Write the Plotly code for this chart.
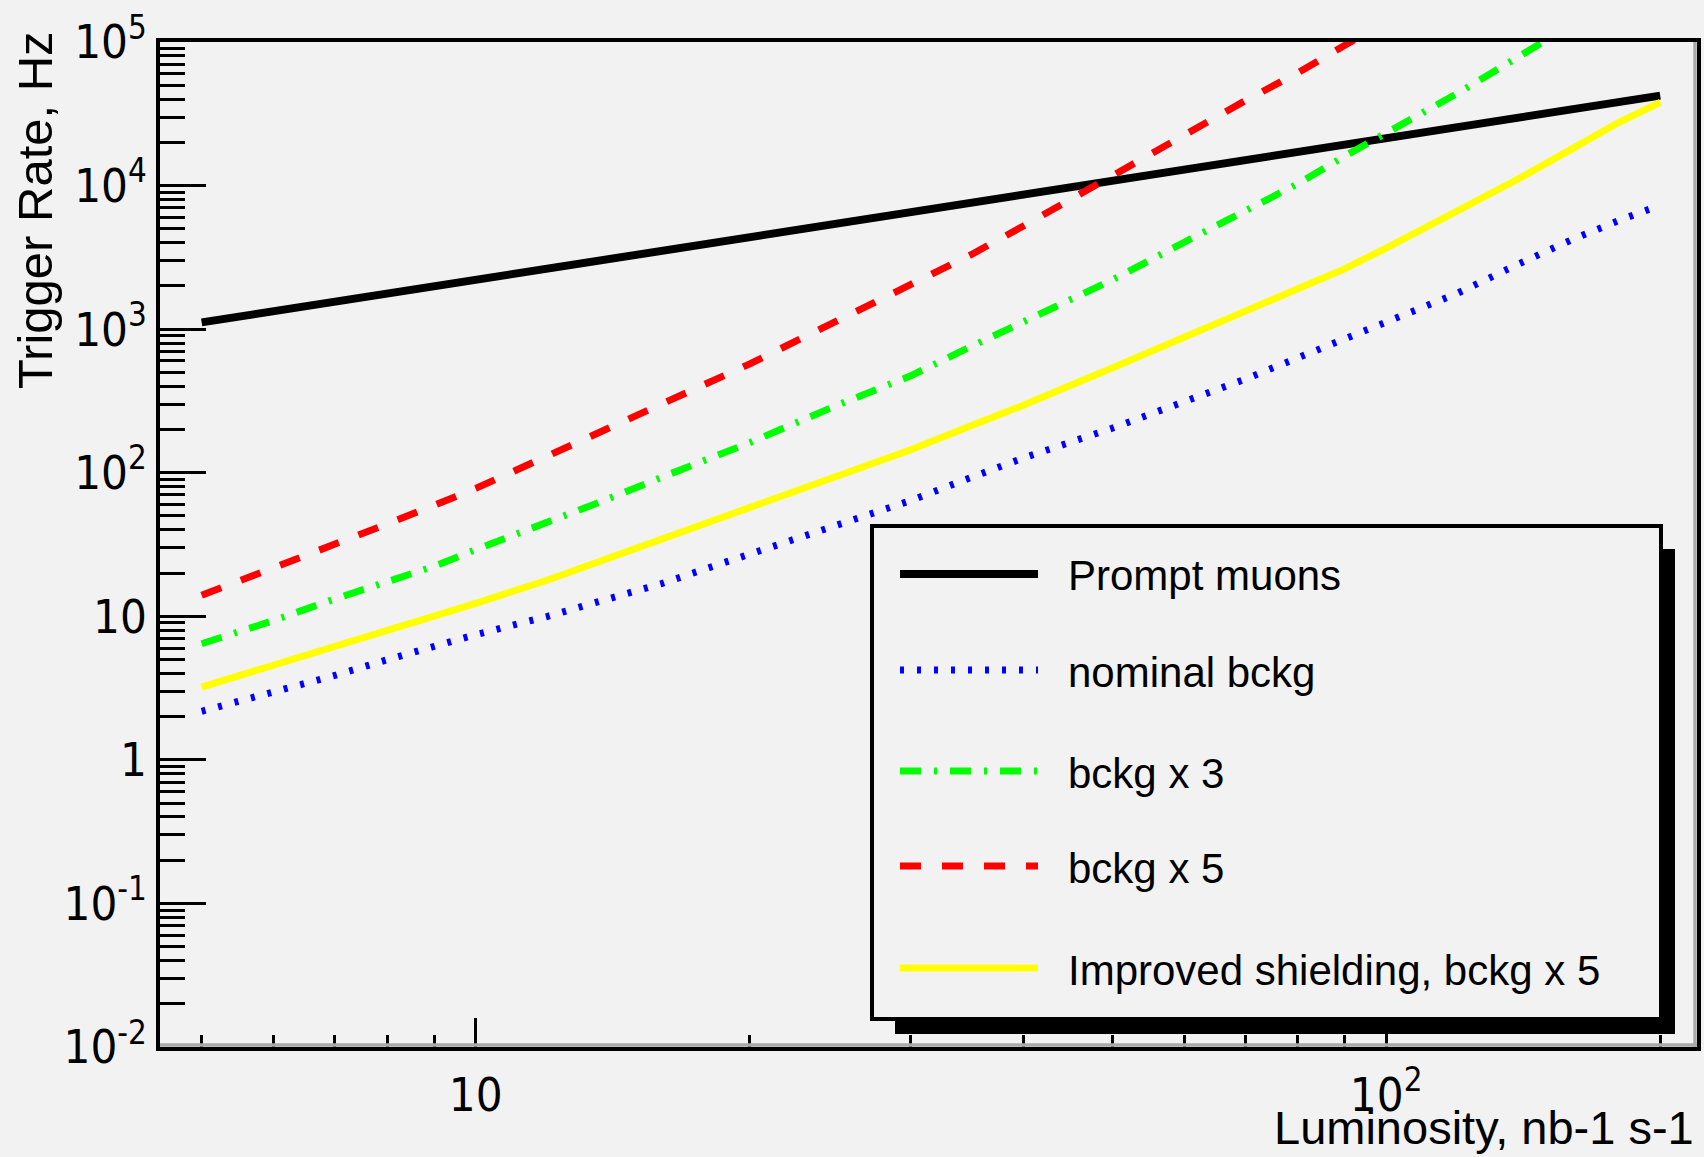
import math
import plotly.graph_objects as go

# ---------------- data ----------------
luminosity = [5, 6, 7, 8, 9, 10, 12, 14, 16, 18, 20, 25, 30, 35, 40, 50,
              60, 70, 80, 90, 100, 120, 140, 160, 180, 200]

prompt_muons = [1114, 1334, 1552, 1772, 1990, 2207, 2642, 3076, 3509, 3940,
                4371, 5447, 6521, 7592, 8660, 10800, 12920, 15030, 17150,
                19260, 21370, 25580, 29780, 33970, 38150, 42320]

nominal_bckg = [2.18, 2.96, 3.87, 4.99, 6.25, 7.45, 10.0, 13.1, 16.9, 21.7,
                27.1, 43.3, 63.8, 92.6, 127, 204, 311, 448, 632, 859, 1128,
                1789, 2858, 4200, 5700, 7300]

bckg_x3 = [6.44, 9.35, 13.2, 17.3, 22.3, 29.1, 45.1, 66.0, 92.9, 125, 162,
           297, 471, 757, 1119, 2200, 4030, 6680, 10300, 16000, 23000, 44200,
           79600, 132000, None, None]

bckg_x5 = [14.0, 21.6, 31.4, 44.0, 59.2, 77.8, 131, 203, 296, 412, 573, 1150,
           2010, 3300, 5250, 11600, 22800, 39000, 61000, 96000, 140000,
           None, None, None, None, None]

improved_shielding = [3.21, 4.55, 6.08, 7.83, 9.93, 12.3, 17.9, 25.4, 34.3,
                      44.6, 56.4, 93.2, 144, 212, 296, 537, 871, 1318, 1884,
                      2630, 3670, 6610, 11200, 18000, 27500, 38000]

series_names = ["Prompt muons", "nominal bckg", "bckg x 3", "bckg x 5",
                "Improved shielding, bckg x 5"]
series_values = [prompt_muons, nominal_bckg, bckg_x3, bckg_x5,
                 improved_shielding]

x_range = [4.5, 219.5]
y_range = [0.01, 1e5]

x_major = [10, 100]
x_major_text = ["10", "10<sup>2</sup>"]
x_minor = [5, 6, 7, 8, 9, 20, 30, 40, 50, 60, 70, 80, 90, 200]

y_major = [0.01, 0.1, 1, 10, 100, 1000, 10000, 100000]
y_major_text = ["10<sup>-2</sup>", "10<sup>-1</sup>", "1", "10",
                "10<sup>2</sup>", "10<sup>3</sup>", "10<sup>4</sup>",
                "10<sup>5</sup>"]
y_minor = [m * 10 ** e for e in range(-2, 5) for m in range(2, 10)]

x_title = "Luminosity, nb-1 s-1"
y_title = "Trigger Rate, Hz"

# ---------------- styles ----------------
colors = ["#000000", "#0000ff", "#00ff00", "#ff0000", "#ffff00"]
widths = [8, 7, 7, 7, 7]
dashes = ["solid", "4px,13px", "21px,13px,3px,13px", "21px,21px", "solid"]

BG = "#f2f2f2"
FONT = "Liberation Sans, Arial, Helvetica, sans-serif"
TICK_FONT = "Liberation Sans Narrow, Arial Narrow, DejaVu Sans Condensed, Liberation Sans, sans-serif"

W, H = 1704, 1157
L_M, R_M, T_M, B_M = 160, 7, 42, 110
PW = W - L_M - R_M
PH = H - T_M - B_M


def px(xpix):
    return (xpix - L_M) / PW


def py(ypix):
    return (H - B_M - ypix) / PH


fig = go.Figure()
for name, vals, c, w, d in zip(series_names, series_values, colors, widths, dashes):
    fig.add_trace(go.Scatter(
        x=luminosity, y=vals, mode="lines", name=name,
        line=dict(color=c, width=w, dash=d),
        connectgaps=False, showlegend=False, hoverinfo="skip",
    ))

axis_common = dict(
    type="log", showline=True, linecolor="black", linewidth=3.5, mirror=True,
    ticks="inside", tickcolor="black", tickwidth=3, showgrid=False,
    zeroline=False, automargin=False,
    tickfont=dict(family=TICK_FONT, size=47, color="black"),
)

fig.update_layout(
    width=W, height=H,
    margin=dict(l=L_M, r=R_M, t=T_M, b=B_M, pad=0),
    paper_bgcolor=BG, plot_bgcolor=BG,
    font=dict(family=FONT, color="black"),
    showlegend=False,
    xaxis=dict(
        **axis_common,
        range=[math.log10(x_range[0]), math.log10(x_range[1])],
        tickmode="array", tickvals=x_major, ticktext=x_major_text,
        ticklen=29, ticklabelstandoff=4,
        minor=dict(ticks="inside", tickvals=x_minor, ticklen=12, tickwidth=3,
                   tickcolor="black", showgrid=False),
    ),
    yaxis=dict(
        **axis_common,
        range=[math.log10(y_range[0]), math.log10(y_range[1])],
        tickmode="array", tickvals=y_major, ticktext=y_major_text,
        ticklen=46, ticklabelstandoff=0,
        minor=dict(ticks="inside", tickvals=y_minor, ticklen=25, tickwidth=3,
                   tickcolor="black", showgrid=False),
    ),
)

shapes = []
# ROOT-like bevel of the frame (grey inner lines right and bottom)
shapes.append(dict(type="line", xref="paper", yref="paper",
                   x0=px(1695), x1=px(1695), y0=0, y1=1,
                   line=dict(color="#a9a9a9", width=3.4)))
shapes.append(dict(type="line", xref="paper", yref="paper",
                   x0=0, x1=1, y0=py(1045), y1=py(1045),
                   line=dict(color="#a9a9a9", width=3.4)))

# legend: shadow, box, samples
shapes.append(dict(type="rect", xref="paper", yref="paper",
                   x0=px(895), x1=px(1675), y0=py(1034), y1=py(549),
                   fillcolor="black", line=dict(width=0)))
shapes.append(dict(type="rect", xref="paper", yref="paper",
                   x0=px(872), x1=px(1661), y0=py(1019), y1=py(526),
                   fillcolor=BG, line=dict(color="black", width=4)))

row_y = [574, 670, 771, 866, 968]
annotations = []
for name, c, w, d, ry in zip(series_names, colors, widths, dashes, row_y):
    shapes.append(dict(type="line", xref="paper", yref="paper",
                       x0=px(900), x1=px(1038), y0=py(ry), y1=py(ry),
                       line=dict(color=c, width=w, dash=d)))
    annotations.append(dict(
        text=name, xref="paper", yref="paper", x=px(1066), y=py(ry + 2),
        xanchor="left", yanchor="middle", showarrow=False,
        font=dict(family=FONT, size=42, color="black")))

# axis titles (ROOT style: right / top aligned)
annotations.append(dict(
    text=x_title, xref="paper", yref="paper", x=px(1696), y=py(1127),
    xanchor="right", yanchor="middle", showarrow=False,
    font=dict(family=FONT, size=47, color="black")))
annotations.append(dict(
    text=y_title, xref="paper", yref="paper", x=px(35), y=py(210),
    xanchor="center", yanchor="middle", textangle=-90, showarrow=False,
    font=dict(family=FONT, size=49, color="black")))

fig.update_layout(shapes=shapes, annotations=annotations)

fig.write_html("out.html", config={"displayModeBar": False})
